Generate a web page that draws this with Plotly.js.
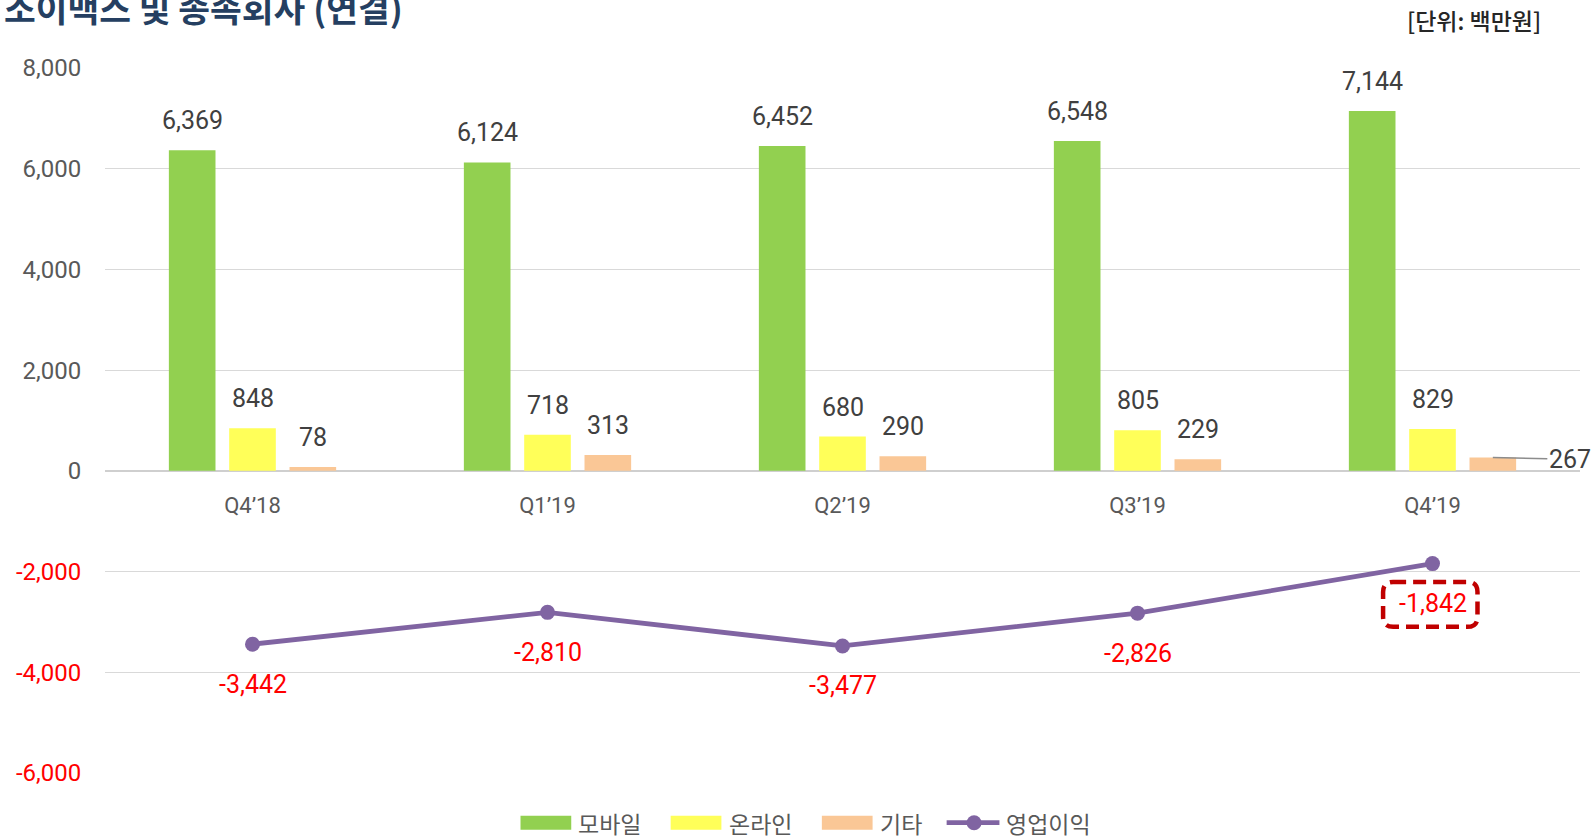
<!DOCTYPE html>
<html>
<head>
<meta charset="utf-8">
<script src="https://cdn.plot.ly/plotly-3.0.1.min.js"></script>
<style>
  html, body { margin: 0; padding: 0; background: #ffffff; }
  #chart { width: 1591px; height: 837px; }
</style>
</head>
<body>
<div id="chart"></div>
<script>
// ---- data ----
const categories = ['Q4’18', 'Q1’19', 'Q2’19', 'Q3’19', 'Q4’19'];
const mobile = [6369, 6124, 6452, 6548, 7144];
const online = [848, 718, 680, 805, 829];
const other = [78, 313, 290, 229, 267];
const opIncome = [-3442, -2810, -3477, -2826, -1842];
const seriesNames = ['모바일', '온라인', '기타', '영업이익'];
const yTickVals = [-6000, -4000, -2000, 0, 2000, 4000, 6000, 8000];
const yTickLabels = ['-6,000', '-4,000', '-2,000', '0', '2,000', '4,000', '6,000', '8,000'];
const chartTitle = '소이맥스 및 종속회사 (연결)';
const unitLabel = '[단위: 백만원]';

// ---- styles ----
const FONT = 'Roboto, "Noto Sans CJK KR", sans-serif';
const KFONT = '"Noto Sans CJK KR", Roboto, sans-serif';
const colors = ['#92d050', '#ffff59', '#fac796', '#8064a2'];
const gray = '#595959';
const labelGray = '#404040';
const red = '#ff0000';

const bargap = 0.3865;
const slot = (1 - bargap) / 3;
const fmt = v => v.toLocaleString('en-US');

const barSeries = [mobile, online, other];
const traces = barSeries.map((vals, k) => ({
  type: 'bar',
  x: categories,
  y: vals,
  name: seriesNames[k],
  marker: { color: colors[k] },
  hoverinfo: 'x+y+name',
  showlegend: false
}));
traces.push({
  type: 'scatter',
  mode: 'lines+markers',
  x: categories,
  y: opIncome,
  name: seriesNames[3],
  line: { color: colors[3], width: 4.8 },
  marker: { color: colors[3], size: 15 },
  showlegend: false
});

const annotations = [];
// bar value labels
barSeries.forEach((vals, k) => {
  vals.forEach((v, i) => {
    const isLastOther = (k === 2 && i === categories.length - 1);
    if (isLastOther) {
      annotations.push({
        x: i + (k - 1) * slot, y: v, xref: 'x', yref: 'y',
        text: fmt(v), showarrow: true, arrowhead: 0, arrowwidth: 1.5,
        arrowcolor: '#8c8c8c', ax: 77, ay: 2, standoff: 0,
        font: { family: FONT, size: 25, color: labelGray }
      });
    } else {
      annotations.push({
        x: i + (k - 1) * slot, y: v, xref: 'x', yref: 'y',
        text: fmt(v), showarrow: false, yanchor: 'bottom', yshift: 13,
        font: { family: FONT, size: 25, color: labelGray }
      });
    }
  });
});
// line value labels
opIncome.forEach((v, i) => {
  annotations.push({
    x: i, y: v, xref: 'x', yref: 'y',
    text: fmt(v), showarrow: false, yanchor: 'middle', yshift: -40,
    font: { family: FONT, size: 25, color: red }
  });
});
// titles
annotations.push({
  xref: 'paper', yref: 'paper', x: -0.0698, y: 1.086, xanchor: 'left', yanchor: 'middle',
  text: '<b>' + chartTitle + '</b>', showarrow: false,
  font: { family: KFONT, size: 34.5, color: '#253f61' }
});
annotations.push({
  xref: 'paper', yref: 'paper', x: 0.9749, y: 1.068, xanchor: 'right', yanchor: 'middle',
  text: unitLabel, showarrow: false,
  font: { family: KFONT, size: 23, color: '#262626', weight: 500 }
});

// custom legend
const legY = -0.0705;
const legH = 0.0099;
const legRects = [[0.2817, 0.3161], [0.3835, 0.4179], [0.4860, 0.5204]];
const legTextX = [0.3193, 0.4214, 0.5239, 0.6098];
const shapes = [];
legRects.forEach((r, k) => {
  shapes.push({
    type: 'rect', xref: 'paper', yref: 'paper',
    x0: r[0], x1: r[1], y0: legY - legH, y1: legY + legH,
    fillcolor: colors[k], line: { width: 0 }
  });
});
shapes.push({
  type: 'line', xref: 'paper', yref: 'paper',
  x0: 0.5706, x1: 0.6064, y0: legY, y1: legY,
  line: { color: colors[3], width: 4.8 }
});
shapes.push({
  type: 'circle', xref: 'paper', yref: 'paper',
  x0: 0.5892 - 0.00508, x1: 0.5892 + 0.00508, y0: legY - 0.01063, y1: legY + 0.01063,
  fillcolor: colors[3], line: { width: 0 }
});
seriesNames.forEach((n, k) => {
  annotations.push({
    xref: 'paper', yref: 'paper', x: legTextX[k], y: legY, xanchor: 'left', yanchor: 'middle',
    text: n, showarrow: false,
    font: { family: KFONT, size: 23, color: gray }
  });
});

// dashed rounded highlight box around last operating income label
(function () {
  const L = 0.8665, R = 0.9305, B = 0.2073, T = 0.2710, rx = 0.0068, ry = 0.0142;
  const p = `M${L + rx},${T} L${R - rx},${T} Q${R},${T} ${R},${T - ry} L${R},${B + ry} Q${R},${B} ${R - rx},${B} ` +
            `L${L + rx},${B} Q${L},${B} ${L},${B + ry} L${L},${T - ry} Q${L},${T} ${L + rx},${T} Z`;
  shapes.push({
    type: 'path', xref: 'paper', yref: 'paper', path: p,
    line: { color: '#c00000', width: 4.5, dash: '13px,7px' }, fillcolor: 'rgba(0,0,0,0)'
  });
})();

const layout = {
  width: 1591, height: 837,
  margin: { l: 105, r: 11, t: 67.5, b: 63.7, pad: 0 },
  paper_bgcolor: '#ffffff', plot_bgcolor: '#ffffff',
  barmode: 'group', bargap: bargap, bargroupgap: 0.227,
  showlegend: false,
  font: { family: FONT, color: gray },
  xaxis: {
    type: 'category',
    anchor: 'free', position: 6000 / 14000,
    range: [-0.5, 4.5],
    showgrid: false, showline: false, zeroline: false,
    ticks: 'outside', ticklen: 15, tickcolor: 'rgba(0,0,0,0)',
    tickfont: { family: FONT, size: 22, color: gray },
    fixedrange: true
  },
  yaxis: {
    range: [-6000, 8000],
    tickvals: yTickVals,
    ticktext: yTickLabels.map((t, i) => yTickVals[i] < 0 ? `<span style="color:${red}">${t}</span>` : t),
    showgrid: true, gridcolor: '#d9d9d9', gridwidth: 1.3,
    zeroline: true, zerolinecolor: '#cfcfcf', zerolinewidth: 2,
    showline: false,
    ticks: 'outside', ticklen: 18, tickcolor: 'rgba(0,0,0,0)',
    tickfont: { family: FONT, size: 24, color: gray },
    fixedrange: true
  },
  annotations: annotations,
  shapes: shapes
};

Plotly.newPlot('chart', traces, layout, { displayModeBar: false, responsive: false });
</script>
</body>
</html>
